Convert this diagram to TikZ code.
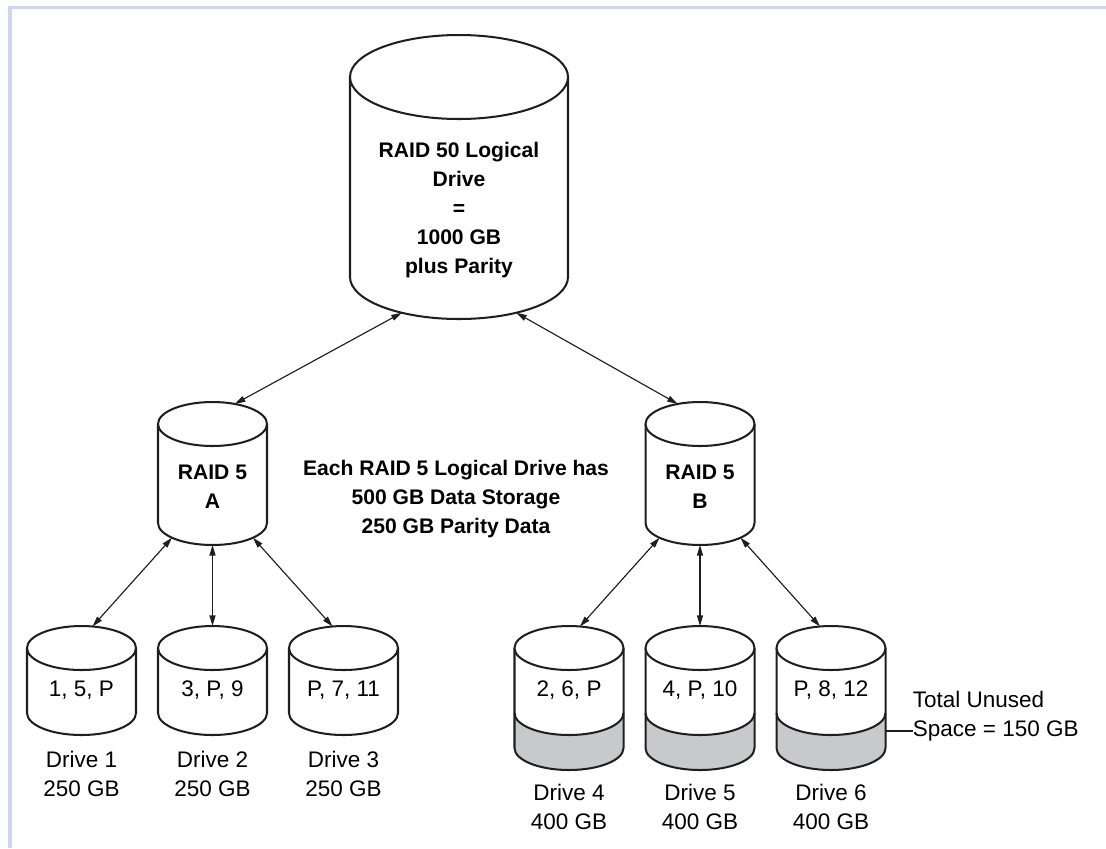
\documentclass[tikz,border=0pt]{standalone}
\usepackage{fontspec}
\setmainfont{Liberation Sans}
\usepackage{tikz}
\usetikzlibrary{shapes.geometric,arrows.meta,positioning,calc}

\definecolor{framecol}{RGB}{206,212,245}
\definecolor{diskcol}{RGB}{30,30,30}
\definecolor{sparecol}{RGB}{200,201,204}

\newcommand{\raidfont}{\fontsize{12}{16.5}\selectfont\bfseries}
\newcommand{\drivefont}{\fontsize{12.8}{16.5}\selectfont}

\tikzset{
  disk rx/.store in=\diskrx, disk ry/.store in=\diskry,
  disk h/.store in=\diskh, disk t/.store in=\diskt, disk hb/.store in=\diskhb,
  disk font/.store in=\diskfont,
  disk rx=1.09, disk ry=0.44, disk h=1.3, disk t=0.85, disk hb=2.0, disk font=\drivefont,
  diskline/.style={draw=diskcol, line width=1.15pt},
  diskend/.style={ellipse, inner sep=0pt, outer sep=0pt, minimum width={2*\diskrx*1cm}, minimum height={2*\diskry*1cm}},
  link/.style={draw=diskcol, line width=0.65pt, {Triangle[length=6pt,width=3.4pt]}-{Triangle[length=6pt,width=3.4pt]}},
  pics/disk/.style={code={
    \node[diskend] (-bot) at (0,-\diskh) {};
    \filldraw[diskline, fill=white] (-\diskrx,0) -- (-\diskrx,-\diskh)
      arc[start angle=180, end angle=360, x radius=\diskrx, y radius=\diskry] -- (\diskrx,0);
    \node[diskend, diskline, fill=white] (-top) at (0,0) {};
    \node[align=center, inner sep=0pt, font=\diskfont] (-txt) at (0,-\diskt) {#1};
  }},
  pics/spare disk/.style={code={
    \node[diskend] (-bot) at (0,-\diskhb) {};
    \fill[sparecol] (-\diskrx,-\diskh) arc[start angle=180, end angle=360, x radius=\diskrx, y radius=\diskry]
      -- (\diskrx,-\diskhb) arc[start angle=0, end angle=-180, x radius=\diskrx, y radius=\diskry] -- cycle;
    \draw[diskline] (-\diskrx,-\diskh) arc[start angle=180, end angle=360, x radius=\diskrx, y radius=\diskry];
    \draw[diskline] (-\diskrx,0) -- (-\diskrx,-\diskhb)
      arc[start angle=180, end angle=360, x radius=\diskrx, y radius=\diskry] -- (\diskrx,0);
    \node[diskend, diskline, fill=white] (-top) at (0,0) {};
    \coordinate (-band) at (\diskrx,{-(\diskh+\diskhb)/2});
    \node[align=center, inner sep=0pt, font=\diskfont] (-txt) at (0,-\diskt) {#1};
  }},
}

\begin{document}
\begin{tikzpicture}[font=\drivefont]
\useasboundingbox (0,0) rectangle (22.12,-16.96);
\draw[framecol, line width=1.9pt] (22.12,-0.15) -- (0.2,-0.15) -- (0.2,-16.96);

% logical drives
\pic[disk rx=2.18, disk ry=0.84, disk h=4.0, disk t=2.66, disk font=\raidfont] (r50) at (9.18,-1.54) {disk={RAID 50 Logical\\Drive\\=\\1000 GB\\plus Parity}};
\pic[disk h=1.98, disk t=1.26, disk font=\raidfont] (r5a) at (4.25,-8.48) {disk={RAID 5\\A}};
\pic[disk h=1.98, disk t=1.26, disk font=\raidfont] (r5b) at (14.0,-8.48) {disk={RAID 5\\B}};
\node[align=center, font=\raidfont] (info) at (9.12,-9.98) {Each RAID 5 Logical Drive has\\500 GB Data Storage\\250 GB Parity Data};

% physical drives
\pic (d1) at (1.63,-12.96) {disk={1, 5, P}};
\pic (d2) at (4.25,-12.96) {disk={3, P, 9}};
\pic (d3) at (6.87,-12.96) {disk={P, 7, 11}};
\pic (d4) at (11.38,-12.96) {spare disk={2, 6, P}};
\pic (d5) at (14.0,-12.96) {spare disk={4, P, 10}};
\pic (d6) at (16.62,-12.96) {spare disk={P, 8, 12}};

\node[align=center] (l1) at ([yshift=-1.22cm]d1-bot) {Drive 1\\250 GB};
\node[align=center] (l2) at ([yshift=-1.22cm]d2-bot) {Drive 2\\250 GB};
\node[align=center] (l3) at ([yshift=-1.22cm]d3-bot) {Drive 3\\250 GB};
\node[align=center] (l4) at ([yshift=-1.18cm]d4-bot) {Drive 4\\400 GB};
\node[align=center] (l5) at ([yshift=-1.18cm]d5-bot) {Drive 5\\400 GB};
\node[align=center] (l6) at ([yshift=-1.18cm]d6-bot) {Drive 6\\400 GB};
\node[align=left, inner sep=0pt, anchor=west] (unused) at ([xshift=0.54cm, yshift=0.29cm]d6-band) {Total Unused\\Space = 150 GB};

\draw[link] (r50-bot.212) -- (r5a-top.42);
\draw[link] (r50-bot.328) -- (r5b-top.138);
\draw[link] (r5a-bot.200) -- (d1-top.63);
\draw[link] (r5a-bot.270) -- (d2-top.90);
\draw[link] (r5a-bot.340) -- (d3-top.117);
\draw[link] (r5b-bot.200) -- (d4-top.63);
\draw[link] (r5b-bot.270) -- (d5-top.90);
\draw[link] (r5b-bot.340) -- (d6-top.117);
\draw[diskline] (d6-band) -- (d6-band -| unused.west);
\end{tikzpicture}
\end{document}
